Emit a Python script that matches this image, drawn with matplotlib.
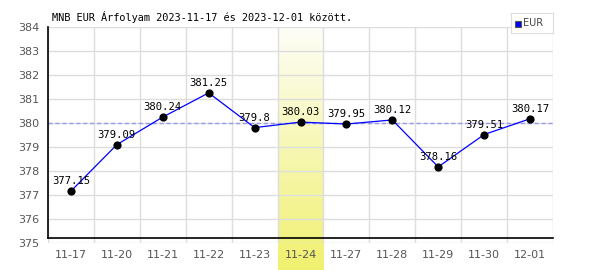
import matplotlib.pyplot as plt
import numpy as np
from matplotlib.colors import LinearSegmentedColormap

dates = ["11-17", "11-20", "11-21", "11-22", "11-23", "11-24",
         "11-27", "11-28", "11-29", "11-30", "12-01"]
values = [377.15, 379.09, 380.24, 381.25, 379.8, 380.03,
          379.95, 380.12, 378.16, 379.51, 380.17]
avg_line = 380.0
highlight = "11-24"
title = "MNB EUR Árfolyam 2023-11-17 és 2023-12-01 között."

fig = plt.figure(figsize=(6, 2.7), dpi=100)
ax = fig.add_axes([48 / 600, 27.4 / 270, 505 / 600, 215.6 / 270])

x = np.arange(len(dates))
ax.set_xlim(-0.5, len(dates) - 0.5)
ax.set_ylim(375, 384)

# highlighted column, gradient running below the axes
hi = dates.index(highlight)
cmap = LinearSegmentedColormap.from_list("hl", ["#fefef8", "#f0f070"])
grad = np.linspace(0, 1, 256).reshape(-1, 1)
band = fig.add_axes([(48 + 46 * hi) / 600, 0, 46 / 600, 243 / 270], zorder=-1)
band.imshow(grad, aspect="auto", cmap=cmap, extent=[0, 1, 0, 1], origin="upper")
band.axis("off")
ax.patch.set_alpha(0)

for gx in np.arange(-0.5, len(dates) + 0.5, 1):
    ax.axvline(gx, color="#dddddd", lw=1, zorder=1)
for gy in range(375, 385):
    ax.axhline(gy, color="#dddddd", lw=1, zorder=1)

ax.axhline(avg_line, color="#9999ee", lw=1, ls=(0, (3, 2)), zorder=2)

ax.plot(x, values, color="#0000ff", lw=0.9, zorder=3)
ax.scatter(x, values, s=24, color="black", zorder=4)
for xi, v in zip(x, values):
    ax.annotate(f"{v:g}", (xi, v), xytext=(0, 3.5), textcoords="offset points",
                ha="center", va="bottom", fontsize=7.6,
                family="DejaVu Sans Mono", color="black", zorder=5)

for s in ax.spines.values():
    s.set_visible(False)
ax.plot([0, 0], [0.021, 1], color="black", lw=1.2, transform=ax.transAxes,
        clip_on=False, zorder=5)
ax.plot([0, 1], [0.021, 0.021], color="black", lw=1.2, transform=ax.transAxes,
        clip_on=False, zorder=5)

ax.set_xticks(x)
ax.set_xticklabels(dates)
ax.set_yticks(range(375, 385))
ax.tick_params(length=0, colors="#555555", labelsize=8, pad=5)
ax.tick_params(axis="y", pad=6)

fig.text(52 / 600, 1 - 17 / 270, title, fontsize=7.4, family="DejaVu Sans Mono",
         va="center", ha="left")

# legend box
leg = fig.add_axes([511 / 600, 1 - 33 / 270, 42 / 600, 20 / 270])
leg.set_xticks([])
leg.set_yticks([])
for s in leg.spines.values():
    s.set_color("#dddddd")
leg.set_xlim(0, 42)
leg.set_ylim(0, 20)
leg.add_patch(plt.Rectangle((4, 6), 6, 6, facecolor="#0000ff", edgecolor="#555555", lw=0.8))
leg.text(12, 9.5, "EUR", fontsize=7, va="center", ha="left", color="#444444")

fig.savefig("out.png", dpi=100)
